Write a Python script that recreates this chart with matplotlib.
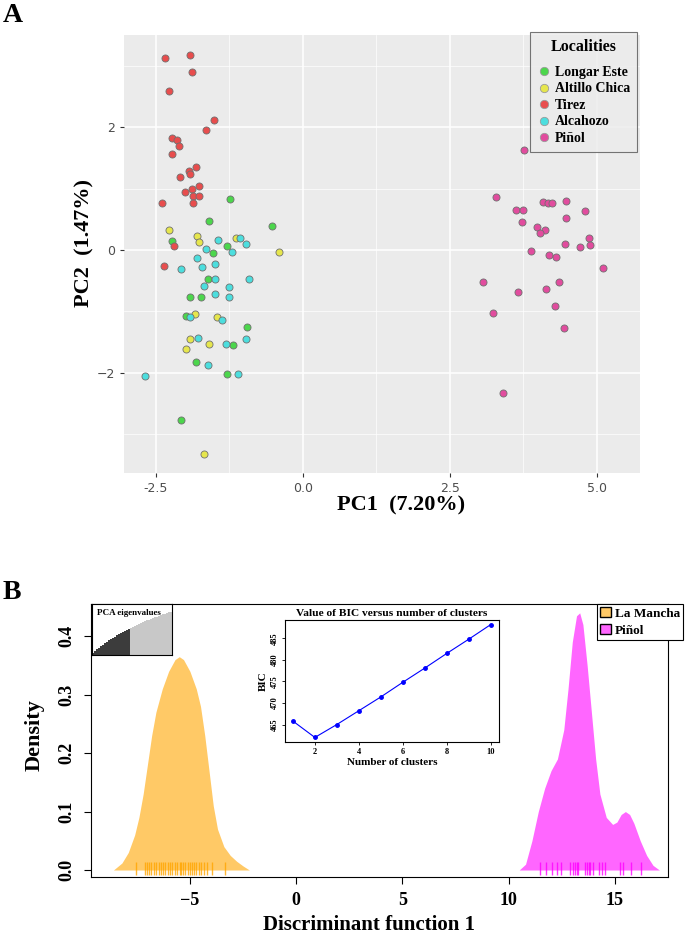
import matplotlib.pyplot as plt
import numpy as np
from matplotlib.patches import Patch
from matplotlib.lines import Line2D

serif = 'Liberation Serif'

# Panel A: PCA scores by locality
longar_x = [-1.24, -1.59, -0.52, -2.22, -1.29, -1.53, -1.62, -1.91, -1.73, -1.98, -0.95, -1.19, -1.81, -1.29, -2.07]
longar_y = [0.83, 0.47, 0.40, 0.14, 0.06, -0.05, -0.47, -0.76, -0.76, -1.08, -1.25, -1.55, -1.82, -2.02, -2.77]

altillo_x = [-2.27, -1.80, -1.76, -1.14, -0.41, -1.84, -1.46, -1.91, -1.60, -1.99, -1.68]
altillo_y = [0.33, 0.23, 0.13, 0.20, -0.04, -1.05, -1.10, -1.45, -1.53, -1.62, -3.33]

tirez_x = [-2.35, -1.91, -1.88, -2.27, -1.51, -1.64, -2.23, -2.14, -2.11, -2.22, -1.81, -1.94,
           -1.92, -2.09, -1.77, -1.89, -2.00, -1.87, -1.76, -2.39, -1.87, -2.19, -2.36]
tirez_y = [3.14, 3.18, 2.91, 2.60, 2.12, 1.96, 1.83, 1.79, 1.69, 1.57, 1.36, 1.29,
           1.24, 1.19, 1.05, 0.99, 0.94, 0.88, 0.88, 0.76, 0.76, 0.07, -0.26]

alcahozo_x = [-1.45, -1.07, -0.97, -1.65, -1.20, -1.80, -2.07, -1.72, -1.50, -1.50, -0.92, -1.68,
              -1.25, -1.50, -1.25, -1.92, -1.38, -1.78, -0.97, -1.31, -1.62, -1.10, -2.68]
alcahozo_y = [0.17, 0.20, 0.10, 0.02, -0.03, -0.13, -0.31, -0.27, -0.23, -0.48, -0.48, -0.58,
              -0.61, -0.71, -0.77, -1.09, -1.15, -1.43, -1.45, -1.54, -1.87, -2.03, -2.05]

pinol_x = [3.76, 3.29, 4.08, 4.17, 4.24, 4.48, 3.62, 3.74, 4.80, 4.47, 3.73, 3.98, 4.11, 4.04, 4.86,
           4.46, 4.71, 4.89, 3.88, 4.19, 4.31, 5.10, 3.07, 4.35, 3.66, 4.13, 4.28, 3.23, 4.44, 3.40]
pinol_y = [1.63, 0.86, 0.79, 0.77, 0.76, 0.80, 0.66, 0.66, 0.63, 0.53, 0.45, 0.37, 0.33, 0.28, 0.20,
           0.10, 0.05, 0.09, -0.02, -0.08, -0.11, -0.29, -0.53, -0.52, -0.69, -0.63, -0.91, -1.02, -1.28, -2.33]

localidades = ['Longar Este', 'Altillo Chica', 'Tirez', 'Alcahozo', 'Piñol']
colores = ['#4CD64C', '#E6E64D', '#E84D4D', '#4CDEDE', '#E14C9E']

# Panel B: discriminant function densities
mancha_dx = [-8.6, -8.2, -7.9, -7.6, -7.4, -7.2, -7.0, -6.8, -6.6, -6.3, -6.0, -5.7, -5.5,
             -5.3, -5.0, -4.7, -4.5, -4.3, -4.1, -3.9, -3.7, -3.4, -3.1, -2.8, -2.5, -2.2]
mancha_dy = [0.0, 0.012, 0.03, 0.06, 0.09, 0.13, 0.18, 0.23, 0.27, 0.31, 0.34, 0.36, 0.365,
             0.36, 0.34, 0.31, 0.28, 0.23, 0.17, 0.11, 0.07, 0.04, 0.025, 0.015, 0.007, 0.0]
pinol_dx = [10.5, 10.8, 11.1, 11.4, 11.7, 12.0, 12.3, 12.6, 12.8, 13.0, 13.2, 13.35, 13.5, 13.7,
            13.9, 14.1, 14.3, 14.6, 14.9, 15.1, 15.3, 15.5, 15.7, 15.9, 16.2, 16.5, 16.8, 17.1]
pinol_dy = [0.0, 0.01, 0.05, 0.10, 0.14, 0.17, 0.19, 0.24, 0.31, 0.39, 0.435, 0.44, 0.42, 0.35,
            0.27, 0.19, 0.13, 0.09, 0.078, 0.082, 0.095, 0.10, 0.095, 0.08, 0.05, 0.025, 0.008, 0.0]

# rug (individual scores)
mancha_rug = [-7.53, -7.12, -7.04, -6.93, -6.82, -6.70, -6.59, -6.46, -6.34, -6.26, -6.15, -6.04,
              -5.92, -5.82, -5.71, -5.60, -5.48, -5.41, -5.32, -5.21, -5.10, -5.01, -4.90, -4.79,
              -4.69, -4.58, -4.46, -4.35, -4.19, -3.96, -3.33]
pinol_rug = [11.49, 11.77, 12.05, 12.27, 12.49, 12.91, 13.05, 13.15, 13.21, 13.29, 13.60, 13.68,
             13.77, 13.85, 13.96, 14.27, 14.40, 14.55, 15.24, 15.40, 15.76, 16.23]

# BIC inset
n_clusters = [1, 2, 3, 4, 5, 6, 7, 8, 9, 10]
bic = [465.8, 462.0, 465.0, 468.2, 471.4, 474.8, 478.1, 481.5, 484.8, 488.2]

# PCA eigenvalues inset (cumulative, fraction)
eigen_cum = [0.04, 0.08, 0.11, 0.14, 0.17, 0.20, 0.23, 0.26, 0.29, 0.31, 0.34, 0.36, 0.39, 0.41,
             0.43, 0.45, 0.47, 0.49, 0.51, 0.53, 0.55, 0.57, 0.59, 0.61, 0.63, 0.64, 0.66, 0.68,
             0.69, 0.71, 0.72, 0.74, 0.75, 0.77, 0.78, 0.80, 0.81, 0.82, 0.84, 0.85]
n_retenidos = 19

fig = plt.figure(figsize=(6.85, 9.38), dpi=100)

# ---------------- Panel A ----------------
axA = fig.add_axes([0.181, 0.4957, 0.753, 0.467])
axA.set_facecolor('#EBEBEB')
for s in axA.spines.values():
    s.set_visible(False)
axA.set_xlim(-3.04, 5.73)
axA.set_ylim(-3.64, 3.51)
axA.set_xticks([-2.5, 0.0, 2.5, 5.0])
axA.set_xticklabels(['-2.5', '0.0', '2.5', '5.0'])
axA.set_yticks([-2, 0, 2])
axA.set_xticks([-1.25, 1.25, 3.75], minor=True)
axA.set_yticks([-3, -1, 1, 3], minor=True)
axA.grid(True, which='major', color='white', linewidth=1.1)
axA.grid(True, which='minor', color='white', linewidth=0.5)
axA.set_axisbelow(True)
axA.tick_params(which='major', length=3, color='#333333', labelcolor='#4D4D4D', labelsize=9)
axA.tick_params(which='minor', length=0)

grupos = [(longar_x, longar_y), (altillo_x, altillo_y), (tirez_x, tirez_y),
          (alcahozo_x, alcahozo_y), (pinol_x, pinol_y)]
for (gx, gy), c in zip(grupos, colores):
    axA.scatter(gx, gy, s=26, c=c, edgecolors='#707070', linewidths=0.6, zorder=3)

handles = [Line2D([], [], marker='o', linestyle='', markersize=6, markerfacecolor=c,
                  markeredgecolor='#9a9a9a', markeredgewidth=0.6) for c in colores]
legA = axA.legend(handles, localidades, title='Localities', loc='upper left',
                  bbox_to_anchor=(0.787, 1.007), borderaxespad=0, frameon=True,
                  fancybox=False, facecolor='#EBEBEB', edgecolor='#555555',
                  prop={'family': serif, 'weight': 'bold', 'size': 10},
                  handletextpad=0.3, labelspacing=0.25, handlelength=1.0,
                  borderpad=0.5)
legA.get_title().set_fontfamily(serif)
legA.get_title().set_fontweight('bold')
legA.get_title().set_fontsize(11.5)
legA._legend_box.sep = 8
legA.get_frame().set_linewidth(0.8)
legA.set_zorder(5)

fig.text(0.585, 0.4616, 'PC1  (7.20%)', ha='center', va='center', family=serif,
         fontweight='bold', fontsize=16)
fig.text(0.124, 0.741, 'PC2  (1.47%)', ha='center', va='center', rotation=90,
         family=serif, fontweight='bold', fontsize=16)
fig.text(0.004, 0.984, 'A', ha='left', va='center', family=serif, fontweight='bold', fontsize=20)
fig.text(0.004, 0.368, 'B', ha='left', va='center', family=serif, fontweight='bold', fontsize=20)

# ---------------- Panel B ----------------
axB = fig.add_axes([0.133, 0.065, 0.842, 0.291])
axB.fill_between(mancha_dx, 0, mancha_dy, color='#FFC966', linewidth=0)
axB.fill_between(pinol_dx, 0, pinol_dy, color='#FF66FF', linewidth=0)
axB.vlines(mancha_rug, -0.009, 0.014, color='#FFA500', alpha=0.8, linewidth=1)
axB.vlines(pinol_rug, -0.009, 0.014, color='#FF00FF', alpha=0.8, linewidth=1)
axB.set_xlim(-9.65, 17.5)
axB.set_ylim(-0.012, 0.455)
axB.set_xticks([-5, 0, 5, 10, 15])
axB.set_xticklabels(['\u22125', '0', '5', '10', '15'])
axB.set_yticks([0.0, 0.1, 0.2, 0.3, 0.4])
axB.set_yticklabels(['0.0', '0.1', '0.2', '0.3', '0.4'], rotation=90, va='center')
axB.tick_params(length=5, width=0.8, labelsize=13, pad=6)
for lab in axB.get_xticklabels() + axB.get_yticklabels():
    lab.set_fontfamily(serif)
    lab.set_fontweight('bold')
for s in axB.spines.values():
    s.set_linewidth(0.8)

legB = axB.legend([Patch(facecolor='#FFC966', edgecolor='black'),
                   Patch(facecolor='#FF66FF', edgecolor='black')],
                  ['La Mancha', 'Piñol'], loc='upper left', bbox_to_anchor=(0.877, 1.0),
                  borderaxespad=0, fancybox=False, edgecolor='black', framealpha=1,
                  prop={'family': serif, 'weight': 'bold', 'size': 9.5},
                  handlelength=0.8, handleheight=0.8, handletextpad=0.3,
                  labelspacing=0.3, borderpad=0.25)
legB.get_frame().set_linewidth(0.8)

fig.text(0.539, 0.0139, 'Discriminant function 1', ha='center', va='center',
         family=serif, fontweight='bold', fontsize=15)
fig.text(0.051, 0.216, 'Density', ha='center', va='center', rotation=90,
         family=serif, fontweight='bold', fontsize=16)

# PCA eigenvalues inset
axE = fig.add_axes([0.134, 0.3017, 0.117, 0.0544])
colE = ['#3C3C3C' if i < n_retenidos else '#C8C8C8' for i in range(len(eigen_cum))]
axE.bar(np.arange(len(eigen_cum)), eigen_cum, width=1.0, color=colE, linewidth=0)
axE.set_xlim(-0.5, len(eigen_cum) - 0.5)
axE.set_ylim(0, 1.0)
axE.set_xticks([])
axE.set_yticks([])
for s in axE.spines.values():
    s.set_linewidth(0.8)
axE.text(0.06, 0.9, 'PCA eigenvalues', transform=axE.transAxes, ha='left', va='top',
         family=serif, fontweight='bold', fontsize=6.5)

# BIC inset
axC = fig.add_axes([0.416, 0.209, 0.312, 0.130])
axC.plot(n_clusters, bic, '-o', color='blue', linewidth=0.8, markersize=2.5)
axC.set_xlim(0.64, 10.36)
axC.set_ylim(460.95, 489.25)
axC.set_xticks([2, 4, 6, 8, 10])
axC.set_yticks([465, 470, 475, 480, 485])
axC.set_yticklabels(['465', '470', '475', '480', '485'], rotation=90, va='center')
axC.tick_params(length=2.5, width=0.6, labelsize=6, pad=2)
for lab in axC.get_xticklabels() + axC.get_yticklabels():
    lab.set_fontfamily(serif)
    lab.set_fontweight('bold')
axC.set_title('Value of BIC versus number of clusters', family=serif, fontweight='bold',
              fontsize=8.2, pad=3)
axC.set_xlabel('Number of clusters', family=serif, fontweight='bold', fontsize=8, labelpad=1)
axC.set_ylabel('BIC', family=serif, fontweight='bold', fontsize=8, labelpad=2)
for s in axC.spines.values():
    s.set_linewidth(0.8)

plt.savefig('out.png', dpi=100)
